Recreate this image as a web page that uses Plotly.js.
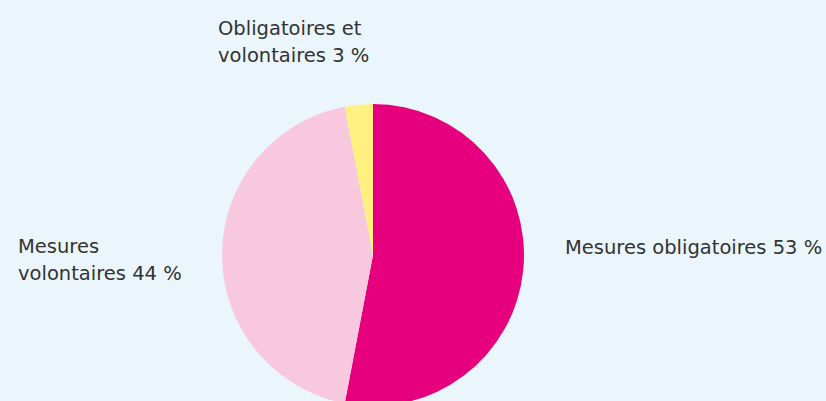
<!DOCTYPE html>
<html><head><meta charset="utf-8">
<script src="https://cdn.plot.ly/plotly-3.0.1.min.js"></script>
<style>html,body{margin:0;padding:0;overflow:hidden;background:#EAF5FC;width:826px;height:401px}</style>
</head><body><div id="chart" style="width:826px;height:410px"></div>
<script>
const categories = ["Mesures obligatoires", "Mesures volontaires", "Obligatoires et volontaires"];
const labelLines = [["Mesures obligatoires 53 %"], ["Mesures", "volontaires 44 %"], ["Obligatoires et", "volontaires 3 %"]];
const values = [53, 44, 3];
const colors = ["#E6007E", "#F8C8DF", "#FFF180"];

const H = 410;
const py = p => 1 - p / H;

const trace = {
  type: "pie",
  labels: categories,
  values: values,
  sort: false,
  direction: "clockwise",
  rotation: 0,
  marker: {colors: colors, line: {width: 0}},
  textinfo: "none",
  hoverinfo: "label+percent",
  showlegend: false,
  domain: {x: [222/826, 524/826], y: [py(406), py(104)]}
};

const font = {family: "DejaVu Sans, Verdana, sans-serif", size: 19.5, color: "#333333"};
const anchors = [[563, 247], [16, 246], [216, 28]];
const lineGap = 27;
const annotations = [];
labelLines.forEach((lines, i) => {
  lines.forEach((t, j) => {
    annotations.push({
      x: anchors[i][0]/826, y: py(anchors[i][1] + j*lineGap),
      xref: "paper", yref: "paper", xanchor: "left", yanchor: "middle", align: "left",
      text: t, showarrow: false, font: font
    });
  });
});

Plotly.newPlot("chart", [trace], {
  width: 826, height: H,
  margin: {l: 0, r: 0, t: 0, b: 0},
  paper_bgcolor: "#EAF5FC",
  plot_bgcolor: "#EAF5FC",
  annotations: annotations
}, {displayModeBar: false, staticPlot: true});
</script></body></html>
